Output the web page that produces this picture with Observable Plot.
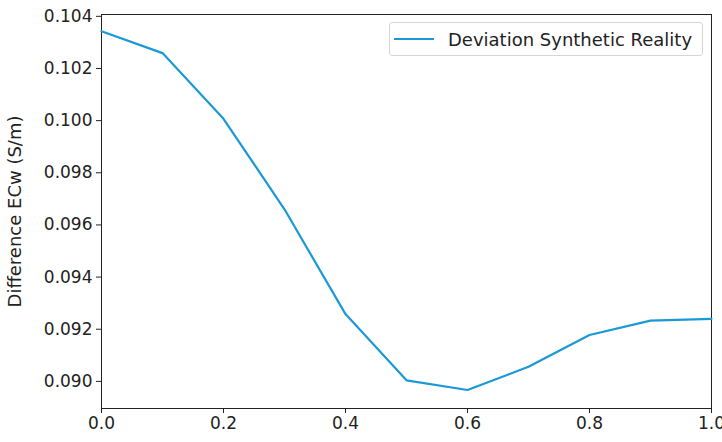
<!DOCTYPE html>
<html>
<head>
<meta charset="utf-8">
<script src="https://cdn.jsdelivr.net/npm/d3@7"></script>
<script src="https://cdn.jsdelivr.net/npm/@observablehq/plot@0.6"></script>
<style>
  html, body { margin: 0; padding: 0; background: #fff; }
  #wrap { position: relative; width: 722px; height: 442px; font-family: "DejaVu Sans", sans-serif; }
  #legend { position: absolute; left: 389px; top: 22px; width: 314px; height: 34px; border: 1px solid #d6d6d6; border-radius: 3px; background: #fff; box-sizing: border-box; display: flex; align-items: center; font-size: 18px; color: #222; white-space: nowrap; }
  #legend .swatch { width: 40px; height: 2.5px; margin-left: 4px; margin-right: 14px; flex: none; }
</style>
</head>
<body>
<div id="wrap"></div>
<script>
const xValues = [0.0, 0.1, 0.2, 0.3, 0.4, 0.5, 0.6, 0.7, 0.8, 0.9, 1.0];
const deviation = [0.10343, 0.10259, 0.10007, 0.0966, 0.09258, 0.09004, 0.08967, 0.09056, 0.09178, 0.09233, 0.0924];
const seriesName = "Deviation Synthetic Reality";
const xTicks = [0.0, 0.2, 0.4, 0.6, 0.8, 1.0];
const yTicks = [0.090, 0.092, 0.094, 0.096, 0.098, 0.100, 0.102, 0.104];
const yLabel = "Difference ECw (S/m)";
const lineColor = "#1b98d6";

const data = xValues.map((x, i) => ({x, y: deviation[i]}));

const chart = Plot.plot({
  width: 722,
  height: 442,
  marginLeft: 101,
  marginRight: 11,
  marginTop: 14,
  marginBottom: 34,
  style: {fontFamily: "DejaVu Sans, sans-serif", fontSize: "17px", color: "#222", background: "#fff"},
  x: {domain: [0, 1]},
  y: {domain: [0.08896, 0.10407]},
  marks: [
    Plot.frame({stroke: "#222", strokeWidth: 1}),
    Plot.axisX({ticks: xTicks, tickFormat: d3.format(".1f"), tickSize: 5, tickPadding: 3, label: null, fontSize: 17}),
    Plot.axisY({ticks: yTicks, tickFormat: d3.format(".3f"), tickSize: 5, tickPadding: 4, label: null, fontSize: 17}),
    Plot.axisY({ticks: [], tickSize: 0, label: yLabel, labelAnchor: "center", labelArrow: "none", labelOffset: 93, fontSize: 18}),
    Plot.line(data, {x: "x", y: "y", stroke: lineColor, strokeWidth: 2.2})
  ]
});

const wrap = document.getElementById("wrap");
wrap.appendChild(chart);
const legend = document.createElement("div");
legend.id = "legend";
const sw = document.createElement("div");
sw.className = "swatch";
sw.style.background = lineColor;
legend.appendChild(sw);
const txt = document.createElement("span");
txt.textContent = seriesName;
legend.appendChild(txt);
wrap.appendChild(legend);
</script>
</body>
</html>
